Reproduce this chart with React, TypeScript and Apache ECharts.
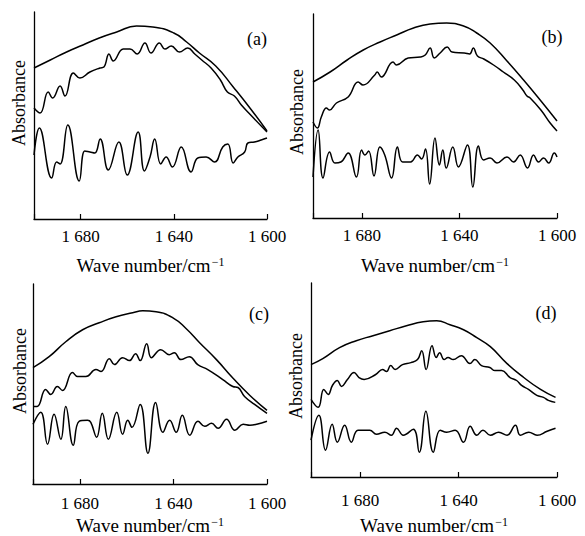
import React, { useEffect, useRef } from "react";
import * as echarts from "echarts";

// Wave-number ticks shown on every x axis
const xTicks = [1600, 1640, 1680];
const panelLabels = ["(a)", "(b)", "(c)", "(d)"];

// ---- Panel (a): [wave number, absorbance (a.u.)] ----
const aTop: [number, number][] = [
  [1700, 151], [1693, 159], [1686, 167], [1679, 174], [1672, 181], [1664.5, 187], [1656, 193],
  [1649, 192], [1640, 186], [1634.5, 177], [1629, 166], [1622, 153], [1614.5, 132], [1607, 110], [1600, 88],
];
const aMid: [number, number][] = [
  [1700, 111], [1697.4, 106], [1693.9, 127], [1692, 121], [1688.8, 133], [1686.7, 123], [1683.1, 146],
  [1680.3, 141], [1676, 147], [1671.7, 151], [1670, 152], [1667.8, 165], [1666, 158], [1661.7, 170],
  [1658.8, 170], [1655.7, 165], [1652.4, 176], [1649.8, 166], [1646.2, 176], [1643.8, 170], [1641.1, 173],
  [1637.6, 167], [1634, 171], [1631, 165], [1628, 159], [1624, 151], [1620, 139], [1617, 127], [1614, 123],
  [1611, 114], [1607, 104], [1600, 87],
];
const aBot: [number, number][] = [
  [1700, 64], [1697.7, 91], [1692.4, 41], [1690.3, 57], [1688.8, 55], [1685.5, 94], [1680.6, 38],
  [1678.2, 68], [1676, 67], [1673.9, 66], [1671.6, 80], [1668.1, 49], [1663.6, 77], [1660, 44],
  [1655.3, 87], [1652.6, 48], [1650.2, 62], [1648.2, 80], [1645.6, 55], [1643.3, 62], [1640.6, 52],
  [1636.8, 72], [1632.6, 47], [1629.7, 61], [1626.1, 62], [1622.5, 57], [1619, 72], [1616.8, 75],
  [1614.5, 56], [1612.5, 62], [1609.6, 67], [1608.2, 76], [1605.4, 77], [1602.5, 79], [1600, 81],
];

// ---- Panel (b) ----
const bTop: [number, number][] = [
  [1700, 136], [1693, 146], [1686, 158], [1679.4, 168], [1672.5, 176], [1665.7, 183], [1658.8, 190],
  [1652, 194], [1645.2, 195], [1638.3, 192], [1632.9, 185], [1627.4, 175], [1620.5, 157], [1613.7, 138],
  [1606.9, 118], [1600, 97],
];
const bMid: [number, number][] = [
  [1700, 96], [1698.2, 90], [1696.6, 101], [1694.5, 110], [1693.2, 108], [1690.4, 115], [1685.6, 121],
  [1681.5, 136], [1679.5, 133], [1674.7, 143], [1673.7, 146], [1672, 141], [1667.2, 156], [1665.8, 153],
  [1661, 160], [1656, 161], [1654, 163], [1652, 170], [1650.3, 160], [1647.9, 165], [1645, 171],
  [1643, 166], [1638, 165], [1635.8, 164], [1634.3, 170], [1632.6, 162], [1630, 159], [1626, 153],
  [1622, 146], [1617.5, 138], [1614, 128], [1612.3, 122], [1611, 120], [1606.6, 108], [1602.8, 95], [1600, 87],
];
const bBot: [number, number][] = [
  [1700, 41], [1697.9, 88], [1695.9, 40], [1693.2, 66], [1691, 55], [1688.6, 56], [1685.6, 65],
  [1682.2, 41], [1680.1, 68], [1678.7, 63], [1677.2, 67], [1675, 42], [1672.6, 71], [1670.6, 63],
  [1667.8, 40], [1665.4, 71], [1663.3, 56], [1660, 56], [1657.2, 63], [1655.5, 59], [1653.9, 69],
  [1652.2, 34], [1650, 80], [1648.2, 53], [1646.8, 68], [1645.4, 50], [1642.7, 71], [1640.4, 51],
  [1636.7, 73], [1634.5, 31], [1632.2, 72], [1630.1, 58], [1627.4, 60], [1624.6, 55], [1620.5, 61],
  [1617.8, 56], [1615.1, 63], [1612.1, 50], [1609.6, 63], [1607.6, 56], [1605.5, 60], [1603.4, 55],
  [1601.1, 65], [1600, 61],
];

// ---- Panel (c) ----
const cTop: [number, number][] = [
  [1700, 117], [1693.1, 128], [1686, 143], [1678.8, 155], [1671.7, 162], [1664.5, 168], [1657.4, 172],
  [1653.1, 174], [1647.4, 173], [1640.2, 167], [1634.5, 156], [1628.8, 142], [1621.6, 125], [1614.4, 106],
  [1607.3, 89], [1600, 74],
];
const cMid: [number, number][] = [
  [1700, 78], [1698.2, 78], [1694.6, 95], [1692.4, 90], [1689.6, 98], [1687.4, 94], [1683.1, 112],
  [1681, 108], [1677.4, 108], [1673.1, 115], [1670.9, 113], [1667.4, 126], [1665.2, 120], [1661.7, 127],
  [1658.8, 124], [1656.2, 131], [1654.2, 124], [1651.4, 141], [1649.4, 127], [1645.4, 135], [1641.8, 130],
  [1639.6, 132], [1636.8, 125], [1633.2, 128], [1629.6, 120], [1625.3, 115], [1618.9, 105], [1614.6, 98],
  [1612.4, 97], [1609.6, 88], [1605.3, 80], [1600, 71],
];
const cBot: [number, number][] = [
  [1700, 60], [1696.7, 72], [1693.8, 40], [1691, 70], [1688.1, 45], [1686, 78], [1682.8, 39],
  [1680.3, 63], [1676.7, 64], [1675.3, 62], [1672.8, 47], [1670.4, 71], [1667.8, 45], [1664.2, 72],
  [1661.7, 50], [1659.5, 64], [1657.7, 57], [1654.2, 80], [1650.9, 31], [1647.6, 82], [1644.5, 52],
  [1641.6, 64], [1638.8, 52], [1636.2, 69], [1633, 49], [1629.5, 63], [1626.6, 58], [1623.7, 61],
  [1620.9, 56], [1617.3, 65], [1613.7, 54], [1610.2, 60], [1607.3, 59], [1604.4, 60], [1600, 63],
];

// ---- Panel (d) ----
const dTop: [number, number][] = [
  [1700, 113], [1695.2, 119], [1688.4, 130], [1681.6, 137], [1674.8, 142], [1668, 147], [1661.2, 152],
  [1654.4, 156], [1648.9, 157], [1643.5, 153], [1638, 148], [1632.6, 140], [1627.1, 131], [1620.3, 114],
  [1613.5, 100], [1606.7, 88], [1600.6, 80],
];
const dMid: [number, number][] = [
  [1700, 78], [1697.1, 70], [1694.8, 88], [1693, 83], [1691.3, 92], [1689.3, 97], [1687.6, 91],
  [1685.2, 98], [1682.5, 105], [1680.5, 100], [1678.4, 98], [1673.7, 103], [1670.9, 108], [1669.3, 106],
  [1667.6, 112], [1665.8, 108], [1662.8, 113], [1659.4, 115], [1656.7, 118], [1655, 127], [1653.2, 108],
  [1650.8, 132], [1649.1, 120], [1647.7, 125], [1645.9, 118], [1644.3, 120], [1642.2, 118], [1638.9, 122],
  [1635.4, 114], [1633.4, 118], [1630.7, 112], [1627.3, 110], [1625.2, 107], [1622.5, 107], [1619.1, 100],
  [1616.4, 97], [1614.4, 92], [1611.6, 88], [1608.2, 82], [1605.5, 80], [1603.5, 77], [1600.7, 75],
];
const dBot: [number, number][] = [
  [1700, 37], [1696.8, 62], [1694.1, 27], [1691.4, 53], [1689.3, 35], [1686.3, 52], [1683.6, 35],
  [1680.9, 47], [1676.1, 47], [1673.4, 43], [1670, 45], [1667.3, 42], [1665.2, 49], [1662.5, 42],
  [1658.4, 48], [1656, 25], [1653.3, 66], [1650.3, 25], [1647.5, 47], [1644.8, 45], [1641.4, 47],
  [1638, 35], [1635.3, 51], [1632.6, 42], [1630.1, 47], [1627.1, 42], [1623.7, 45], [1620.3, 42],
  [1616.9, 52], [1614.9, 42], [1611.5, 45], [1608.1, 42], [1604, 46], [1600.6, 49],
];

const panelSeries = [
  [aTop, aMid, aBot],
  [bTop, bMid, bBot],
  [cTop, cMid, cBot],
  [dTop, dMid, dBot],
];

const FONT = '"Liberation Serif", "Times New Roman", serif';

// layout per panel
const grids = [
  { left: 34, top: 12, width: 233, height: 207 },
  { left: 313, top: 14, width: 244, height: 204 },
  { left: 33, top: 284, width: 234, height: 201 },
  { left: 311, top: 283, width: 246, height: 195 },
];
const yMax = [207, 204, 201, 195];
const labelMargin = [9, 9, 11, 15];
const xNameGap = [37, 38, 32, 39];
const yNameGap = [6, 7, 4, 6];
const yNameShift = [25, 8, 26, 8];
const labelPos = [
  [257, 39],
  [552, 37],
  [259, 314],
  [546, 313],
];

const fmt = (v: number) => {
  if (!xTicks.includes(v)) return "";
  const s = String(v);
  return s.slice(0, 1) + " " + s.slice(1);
};

export default function App() {
  const ref = useRef<HTMLDivElement>(null);
  useEffect(() => {
    if (!ref.current) return;
    const chart = echarts.init(ref.current, undefined, { renderer: "svg" });
    const option: any = {
      animation: false,
      backgroundColor: "#fff",
      grid: grids.map((g) => ({ ...g, containLabel: false })),
      xAxis: grids.map((_, i) => ({
        gridIndex: i,
        type: "value",
        min: 1600,
        max: 1700,
        interval: 40,
        inverse: true,
        axisLine: { show: true, lineStyle: { color: "#000", width: 1.3 } },
        axisTick: { show: true, inside: true, length: 5, lineStyle: { color: "#000", width: 1.2 } },
        axisLabel: {
          color: "#000",
          fontSize: 17,
          fontFamily: FONT,
          margin: labelMargin[i],
          formatter: fmt,
        },
        splitLine: { show: false },
        name: "Wave number/cm{sup|−1}",
        nameLocation: "middle",
        nameGap: xNameGap[i],
        nameTextStyle: {
          color: "#000",
          fontSize: 19,
          fontFamily: FONT,
          rich: {
            sup: { fontSize: 12, fontFamily: FONT, color: "#000", verticalAlign: "top", padding: [0, 0, 6, 1] },
          },
        },
      })),
      yAxis: grids.map((_, i) => ({
        gridIndex: i,
        type: "value",
        min: 0,
        max: yMax[i],
        axisLine: { show: true, onZero: false, lineStyle: { color: "#000", width: 1.3 } },
        axisTick: { show: false },
        axisLabel: { show: false },
        splitLine: { show: false },
        name: "Absorbance",
        nameLocation: "middle",
        nameRotate: 90,
        nameGap: yNameGap[i],
        nameTextStyle: {
          color: "#000",
          fontSize: 18,
          fontFamily: FONT,
          padding: [0, 0, 0, yNameShift[i]],
        },
      })),
      series: panelSeries.flatMap((curves, i) =>
        curves.map((data, k) => ({
          type: "line",
          xAxisIndex: i,
          yAxisIndex: i,
          data,
          showSymbol: false,
          smooth: k === 0 ? true : 0.45,
          lineStyle: { color: "#000", width: 1.5 },
          silent: true,
        }))
      ),
      graphic: panelLabels.map((t, i) => ({
        type: "text",
        x: labelPos[i][0],
        y: labelPos[i][1],
        style: {
          text: t,
          fontSize: 18,
          fontFamily: FONT,
          fill: "#000",
          textAlign: "center",
          textVerticalAlign: "middle",
        },
      })),
    };
    chart.setOption(option);
    return () => chart.dispose();
  }, []);
  return (
    <div
      ref={ref}
      style={{ position: "fixed", left: 0, top: 0, width: 585, height: 536, background: "#fff" }}
    />
  );
}
